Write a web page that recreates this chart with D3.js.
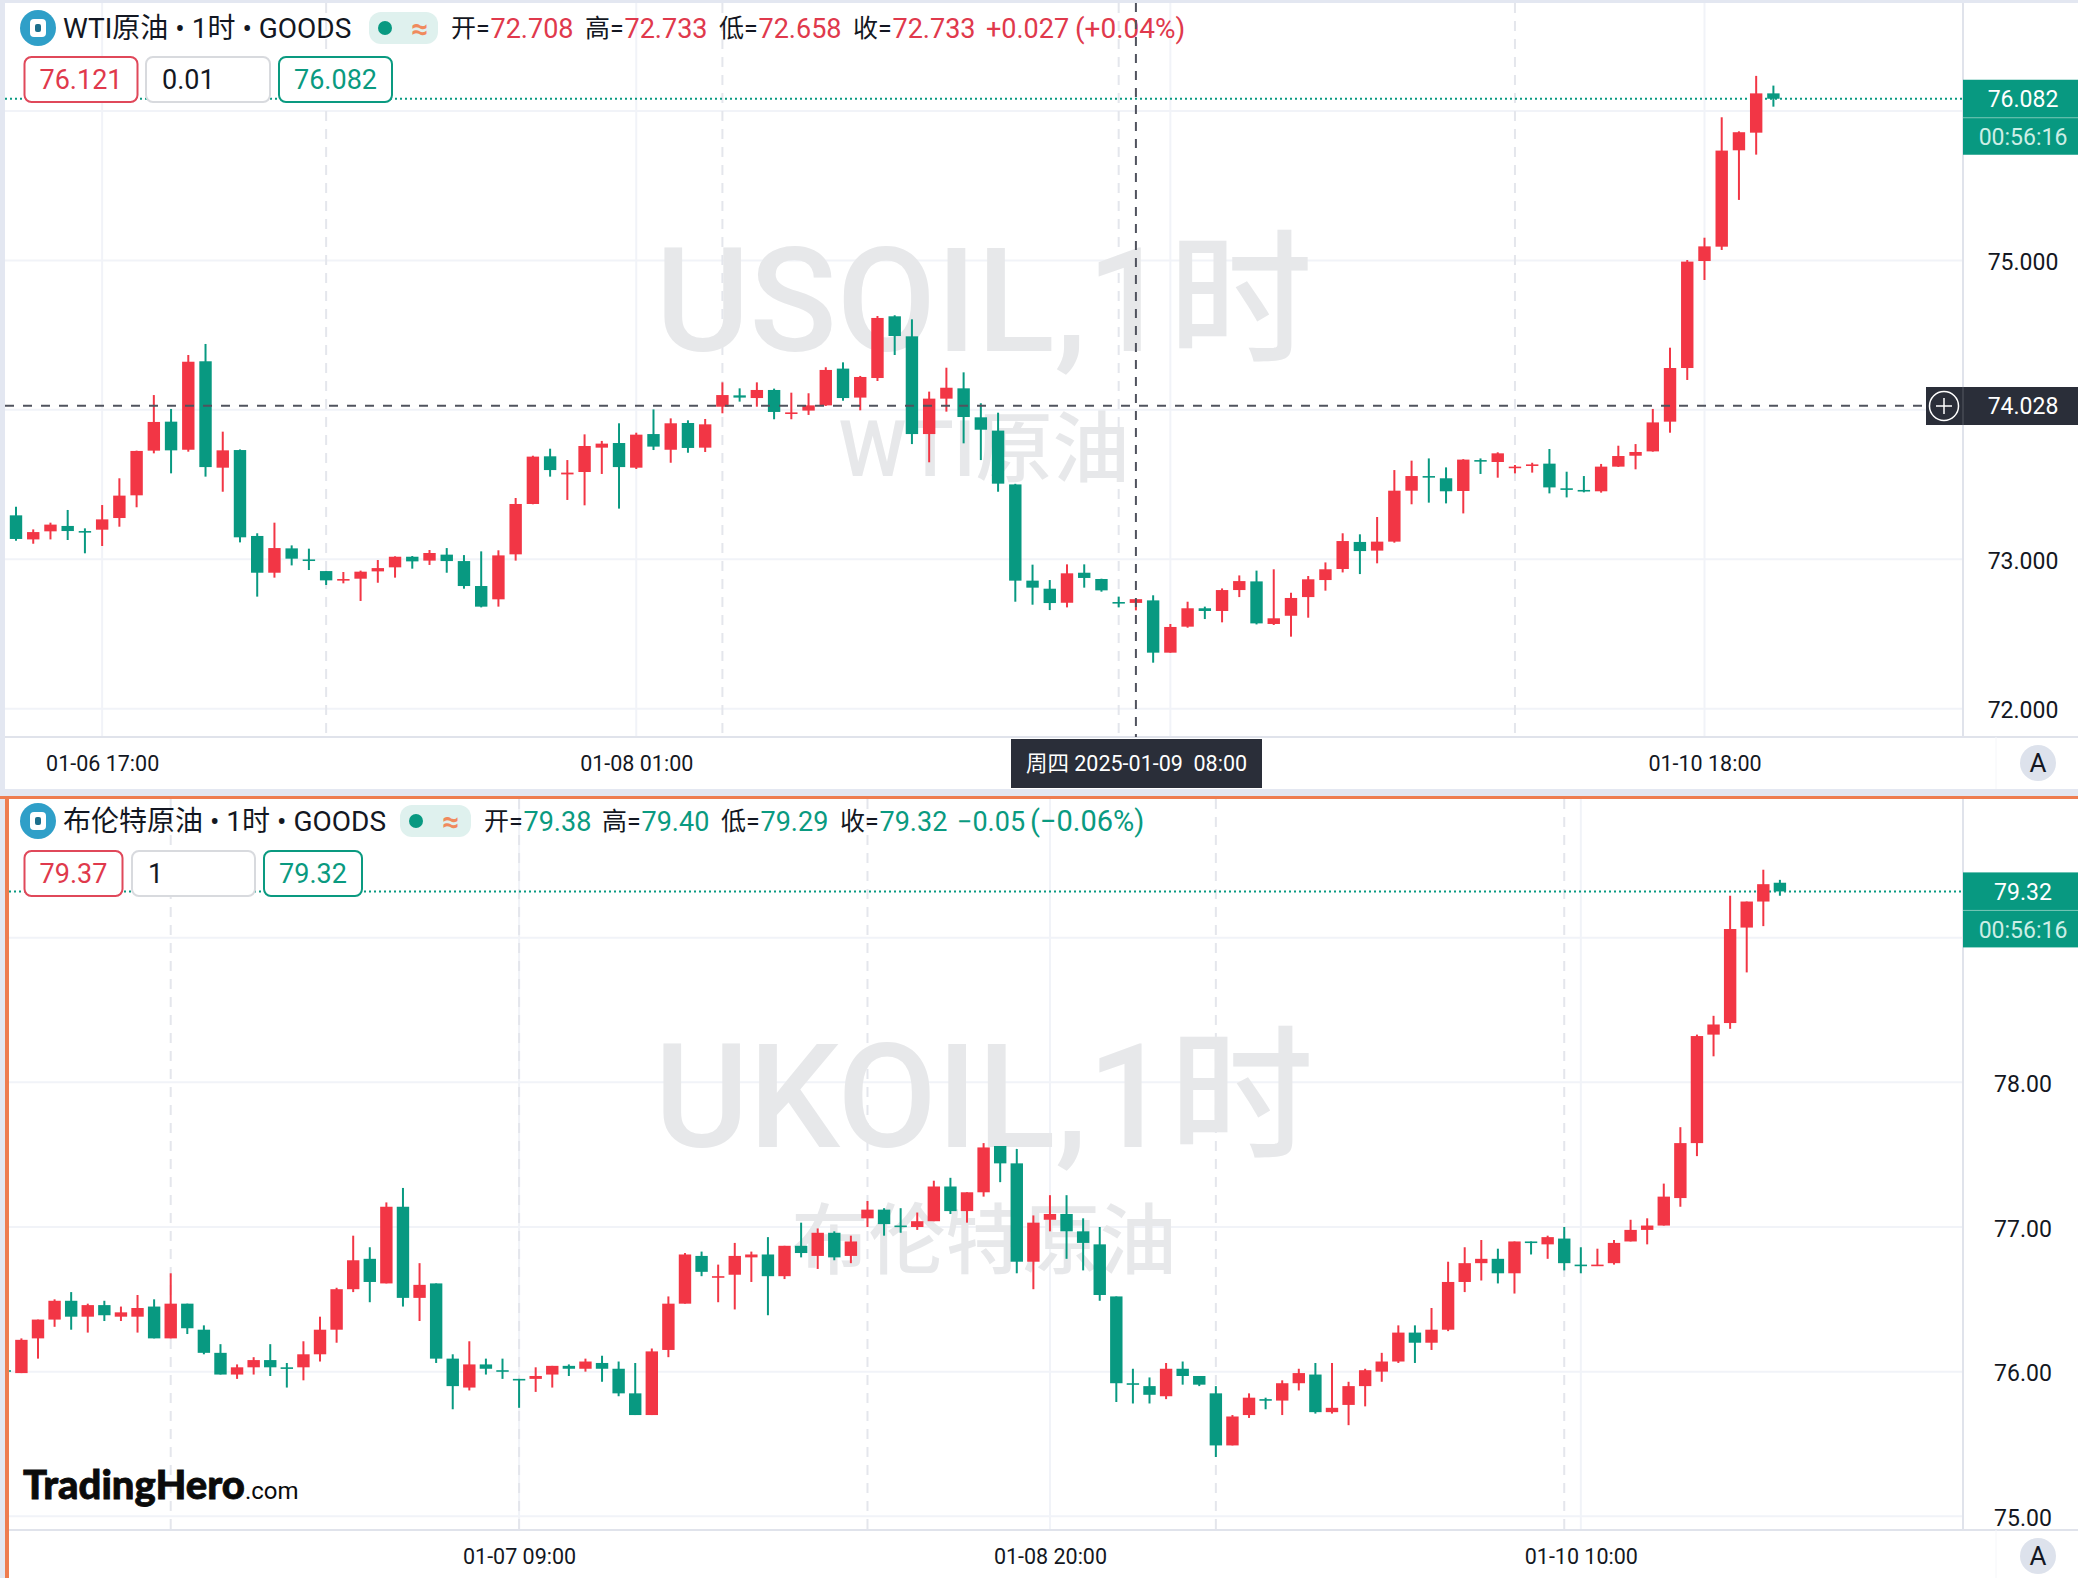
<!DOCTYPE html>
<html>
<head>
<meta charset="utf-8">
<script src="https://cdnjs.cloudflare.com/ajax/libs/d3/7.8.5/d3.min.js"></script>
<style>
  html, body { margin: 0; padding: 0; background: #e3e7f1; }
  svg { display: block; font-family: Roboto, "Noto Sans CJK SC", sans-serif; }
</style>
</head>
<body>
<svg id="chart" width="2078" height="1578"></svg>
<script>
// Candle rows are [open, high, low, close], first row is the one cut by the left edge
const usoilCandles = [
  [73.452,73.452,73.296,73.296],[73.294,73.352,73.124,73.136],[73.133,73.200,73.104,73.182],[73.187,73.245,73.133,73.232],
  [73.223,73.330,73.129,73.189],[73.189,73.207,73.040,73.180],[73.198,73.363,73.089,73.267],[73.276,73.542,73.218,73.426],
  [73.428,73.727,73.348,73.725],[73.727,74.099,73.709,73.919],[73.921,74.006,73.575,73.729],[73.733,74.367,73.720,74.322],
  [74.325,74.441,73.553,73.617],[73.613,73.854,73.452,73.729],[73.731,73.735,73.113,73.147],[73.156,73.174,72.750,72.910],
  [72.910,73.245,72.877,73.075],[73.073,73.093,72.959,73.004],[72.999,73.071,72.928,72.993],[72.921,72.921,72.828,72.859],
  [72.857,72.915,72.839,72.868],[72.870,72.924,72.721,72.917],[72.919,72.995,72.843,72.941],[72.946,73.020,72.877,73.017],
  [73.017,73.022,72.937,72.986],[72.991,73.062,72.962,73.042],[73.031,73.075,72.910,72.988],[72.988,73.028,72.803,72.821],
  [72.821,73.053,72.678,72.683],[72.732,73.060,72.683,73.026],[73.033,73.410,72.991,73.370],[73.370,73.693,73.368,73.687],
  [73.689,73.740,73.553,73.597],[73.568,73.664,73.397,73.580],[73.584,73.836,73.361,73.758],[73.747,73.792,73.571,73.774],
  [73.778,73.910,73.339,73.617],[73.613,73.847,73.604,73.834],[73.838,74.003,73.731,73.754],[73.733,73.943,73.646,73.910],
  [73.912,73.930,73.713,73.745],[73.747,73.939,73.718,73.903],[74.021,74.184,73.977,74.099],[74.097,74.144,74.055,74.082],
  [74.079,74.184,74.021,74.133],[74.133,74.142,73.937,73.986],[73.974,74.115,73.937,73.983],[73.995,74.111,73.966,74.030],
  [74.030,74.285,74.026,74.267],[74.276,74.318,74.061,74.079],[74.082,74.227,73.997,74.220],[74.213,74.628,74.193,74.615],
  [74.626,74.633,74.367,74.494],[74.492,74.606,73.771,73.838],[73.838,74.122,73.649,74.075],[74.075,74.282,73.988,74.148],
  [74.144,74.251,73.776,73.952],[73.950,74.044,73.664,73.867],[73.861,73.981,73.452,73.506],[73.501,73.505,72.716,72.857],
  [72.857,72.964,72.696,72.810],[72.803,72.861,72.660,72.707],[72.709,72.966,72.678,72.906],[72.910,72.966,72.810,72.875],
  [72.868,72.870,72.783,72.792],[72.714,72.750,72.678,72.705],[72.708,72.733,72.658,72.733],[72.725,72.759,72.308,72.375],
  [72.375,72.567,72.375,72.547],[72.549,72.716,72.542,72.672],[72.672,72.683,72.600,72.654],[72.654,72.805,72.578,72.794],
  [72.794,72.892,72.747,72.854],[72.852,72.924,72.564,72.571],[72.567,72.933,72.560,72.605],[72.622,72.776,72.482,72.741],
  [72.747,72.888,72.609,72.866],[72.861,72.979,72.790,72.933],[72.935,73.174,72.912,73.122],[73.116,73.167,72.901,73.055],
  [73.058,73.283,72.973,73.118],[73.118,73.597,73.111,73.459],[73.459,73.660,73.368,73.557],[73.557,73.675,73.379,73.548],
  [73.542,73.615,73.374,73.455],[73.457,73.670,73.307,73.667],[73.664,73.675,73.571,73.655],[73.651,73.716,73.546,73.709],
  [73.611,73.631,73.575,73.620],[73.626,73.646,73.580,73.635],[73.640,73.738,73.441,73.481],[73.475,73.586,73.414,73.466],
  [73.464,73.557,73.448,73.455],[73.455,73.638,73.446,73.620],[73.620,73.760,73.618,73.691],[73.693,73.771,73.602,73.718],
  [73.722,74.006,73.720,73.916],[73.921,74.416,73.847,74.280],[74.280,75.003,74.200,74.992],[74.996,75.152,74.869,75.094],
  [75.092,75.958,75.070,75.735],[75.737,75.864,75.405,75.858],[75.855,76.235,75.708,76.118],[76.118,76.170,76.029,76.082]
];

const ukoilCandles = [
  [76.01,76.01,75.99,76.00],[75.99,76.23,75.99,76.22],[76.23,76.36,76.09,76.36],[76.36,76.50,76.31,76.49],
  [76.49,76.55,76.29,76.38],[76.38,76.47,76.27,76.46],[76.46,76.49,76.35,76.39],[76.38,76.45,76.35,76.41],
  [76.38,76.53,76.27,76.44],[76.45,76.50,76.23,76.23],[76.23,76.68,76.23,76.47],[76.47,76.47,76.26,76.30],
  [76.29,76.32,76.12,76.13],[76.13,76.19,75.98,75.98],[75.98,76.05,75.95,76.03],[76.03,76.10,75.98,76.08],
  [76.08,76.19,75.97,76.03],[76.03,76.06,75.89,76.02],[76.03,76.21,75.94,76.12],[76.12,76.38,76.07,76.29],
  [76.29,76.58,76.20,76.57],[76.57,76.94,76.55,76.77],[76.78,76.86,76.48,76.62],[76.61,77.17,76.61,77.14],
  [77.14,77.27,76.45,76.51],[76.51,76.75,76.35,76.60],[76.61,76.61,76.06,76.09],[76.09,76.12,75.74,75.90],
  [75.89,76.21,75.87,76.05],[76.05,76.09,75.98,76.02],[76.01,76.09,75.95,76.00],[75.95,75.95,75.75,75.94],
  [75.95,76.03,75.86,75.97],[75.98,76.04,75.89,76.04],[76.04,76.05,75.97,76.02],[76.02,76.09,76.00,76.07],
  [76.06,76.11,75.93,76.02],[76.02,76.07,75.83,75.85],[75.85,76.06,75.70,75.70],[75.70,76.16,75.70,76.14],
  [76.15,76.52,76.10,76.47],[76.47,76.82,76.47,76.81],[76.80,76.83,76.66,76.69],[76.65,76.74,76.48,76.66],
  [76.67,76.89,76.43,76.80],[76.79,76.83,76.62,76.81],[76.81,76.93,76.39,76.66],[76.66,76.87,76.64,76.87],
  [76.87,77.03,76.79,76.82],[76.80,76.99,76.71,76.96],[76.96,76.97,76.77,76.79],[76.80,76.94,76.75,76.90],
  [77.06,77.18,77.00,77.12],[77.12,77.13,76.94,77.02],[77.01,77.13,76.96,77.00],[77.00,77.10,76.98,77.04],
  [77.04,77.32,77.04,77.28],[77.28,77.34,77.09,77.11],[77.11,77.24,77.03,77.24],[77.24,77.58,77.21,77.55],
  [77.56,77.56,77.31,77.44],[77.44,77.54,76.68,76.76],[76.76,77.08,76.57,77.03],[77.05,77.22,76.97,77.09],
  [77.09,77.22,76.78,76.97],[76.97,77.06,76.70,76.89],[76.88,77.00,76.49,76.53],[76.52,76.52,75.79,75.92],
  [75.92,76.02,75.78,75.91],[75.90,75.96,75.78,75.84],[75.83,76.06,75.81,76.02],[76.02,76.07,75.91,75.97],
  [75.97,75.97,75.90,75.91],[75.85,75.90,75.41,75.49],[75.49,75.70,75.49,75.69],[75.70,75.85,75.68,75.82],
  [75.81,75.82,75.74,75.80],[75.80,75.94,75.70,75.92],[75.92,76.02,75.87,75.99],[75.98,76.06,75.71,75.72],
  [75.72,76.06,75.71,75.75],[75.77,75.93,75.63,75.90],[75.90,76.02,75.76,76.01],[76.00,76.13,75.93,76.07],
  [76.07,76.32,76.06,76.27],[76.27,76.32,76.06,76.20],[76.20,76.44,76.15,76.29],[76.29,76.76,76.28,76.62],
  [76.62,76.86,76.55,76.75],[76.75,76.91,76.63,76.78],[76.78,76.85,76.61,76.68],[76.68,76.90,76.54,76.90],
  [76.90,76.90,76.81,76.89],[76.88,76.94,76.78,76.93],[76.92,77.00,76.70,76.75],[76.74,76.86,76.68,76.73],
  [76.73,76.85,76.73,76.74],[76.75,76.91,76.74,76.89],[76.90,77.05,76.90,76.98],[76.98,77.06,76.88,77.01],
  [77.01,77.30,77.01,77.21],[77.20,77.69,77.14,77.58],[77.58,78.33,77.49,78.32],[78.33,78.46,78.18,78.40],
  [78.41,79.29,78.37,79.06],[79.07,79.25,78.76,79.25],[79.25,79.47,79.08,79.37],[79.38,79.40,79.29,79.32]
];

// Price grid and the labels that are not hidden behind a badge
const usoilGridPrices = [76, 75, 74, 73, 72];
const usoilPriceTicks = [75, 73, 72];
const ukoilGridPrices = [79, 78, 77, 76, 75];
const ukoilPriceTicks = [78, 77, 76, 75];

// Time axis: bar number of the solid grid lines, and their labels
const usoilTimeBars = [6, 37, 68, 99];
const usoilTimeLabels = ["01-06 17:00", "01-08 01:00", "", "01-10 18:00"];
const usoilSessionBars = [19, 42, 65, 88];
const ukoilTimeBars = [31, 63, 95];
const ukoilTimeLabels = ["01-07 09:00", "01-08 20:00", "01-10 10:00"];
const ukoilSessionBars = [10, 31, 52, 73, 94];

const red = "#f23645";
const green = "#089981";
const ink = "#131722";
const axisLine = "#e0e3eb";
const gridLine = "#f1f3f8";
const badgeDark = "#2a2e39";

const svg = d3.select("#chart");

function txt(g, x, y, s, size, fill, anchor) {
  return g.append("text")
    .attr("x", x).attr("y", y)
    .attr("dy", "0.36em")
    .attr("font-size", size)
    .attr("fill", fill)
    .attr("text-anchor", anchor || "start")
    .text(s);
}

function drawPanel(p) {
  const g = svg.append("g");
  const x = d3.scaleLinear().domain(p.barDomain).range(p.barRange);
  const y = d3.scaleLinear().domain(p.priceDomain).range(p.priceRange);

  g.append("rect").attr("x", p.left).attr("y", p.top)
    .attr("width", 2078 - p.left).attr("height", p.bottom - p.top).attr("fill", "#fff");

  const clipId = "clip" + p.id;
  g.append("clipPath").attr("id", clipId).append("rect")
    .attr("x", p.left).attr("y", p.top).attr("width", 1963 - p.left).attr("height", p.axisY - p.top);

  // grid
  g.selectAll(".hgrid").data(p.gridPrices).enter().append("line")
    .attr("x1", p.left).attr("x2", 1963)
    .attr("y1", d => y(d)).attr("y2", d => y(d))
    .attr("stroke", gridLine).attr("stroke-width", 2);
  g.selectAll(".vgrid").data(p.timeBars).enter().append("line")
    .attr("x1", d => x(d)).attr("x2", d => x(d))
    .attr("y1", p.top).attr("y2", p.axisY)
    .attr("stroke", gridLine).attr("stroke-width", 2);
  g.selectAll(".vsession").data(p.sessionBars).enter().append("line")
    .attr("x1", d => x(d)).attr("x2", d => x(d))
    .attr("y1", p.top).attr("y2", p.axisY)
    .attr("stroke", "#e4e6ec").attr("stroke-width", 2)
    .attr("stroke-dasharray", "10,8");

  // watermark
  g.append("text").attr("x", 984).attr("y", p.markY1)
    .attr("text-anchor", "middle").attr("font-size", p.markSize1).attr("font-weight", 500)
    .attr("fill", "#e7e8ea").text(p.mark1);
  g.append("text").attr("x", 984).attr("y", p.markY2)
    .attr("text-anchor", "middle").attr("font-size", p.markSize2).attr("font-weight", 500)
    .attr("fill", "#e7e8ea").text(p.mark2);

  // last price line
  g.append("line")
    .attr("x1", p.left).attr("x2", 1963)
    .attr("y1", y(p.last)).attr("y2", y(p.last))
    .attr("stroke", green).attr("stroke-width", 2)
    .attr("stroke-dasharray", "2,3");

  // candles
  const candles = g.append("g").attr("clip-path", `url(#${clipId})`)
    .selectAll("g").data(p.candles).enter().append("g")
    .attr("fill", d => d[3] >= d[0] ? red : green)
    .attr("stroke", d => d[3] >= d[0] ? red : green);
  candles.append("line")
    .attr("x1", (d, i) => x(i)).attr("x2", (d, i) => x(i))
    .attr("y1", d => y(d[1])).attr("y2", d => y(d[2]))
    .attr("stroke-width", 2);
  candles.append("rect")
    .attr("stroke", "none")
    .attr("x", (d, i) => x(i) - 6.2)
    .attr("width", 12.4)
    .attr("y", d => y(Math.max(d[0], d[3])))
    .attr("height", d => Math.max(Math.abs(y(d[0]) - y(d[3])), 1.6));

  // axis frames
  g.append("line").attr("x1", 1963).attr("x2", 1963).attr("y1", p.top).attr("y2", p.axisY)
    .attr("stroke", axisLine).attr("stroke-width", 2);
  g.append("line").attr("x1", p.left).attr("x2", 2078).attr("y1", p.axisY).attr("y2", p.axisY)
    .attr("stroke", axisLine).attr("stroke-width", 2);
  g.append("line").attr("x1", 1996).attr("x2", 1996).attr("y1", p.axisY).attr("y2", p.bottom)
    .attr("stroke", "#f5f6f9").attr("stroke-width", 1);

  // price axis
  const yAxis = g.append("g")
    .attr("transform", "translate(2023,0)")
    .call(d3.axisRight(y).tickValues(p.priceTicks).tickSize(0).tickFormat(d3.format(p.priceFormat)));
  yAxis.select(".domain").remove();
  yAxis.selectAll("text")
    .attr("x", 0).attr("dy", "0.4em").attr("text-anchor", "middle")
    .attr("font-size", 23).attr("font-family", "Roboto").attr("fill", ink);

  // time axis
  const xAxis = g.append("g")
    .attr("transform", `translate(0,${p.axisY})`)
    .call(d3.axisBottom(x).tickValues(p.timeBars).tickSize(0)
      .tickFormat((d, i) => p.timeLabels[i]));
  xAxis.select(".domain").remove();
  xAxis.selectAll("text")
    .attr("y", 26).attr("dy", "0.36em")
    .attr("font-size", 21.5).attr("font-family", "Roboto").attr("fill", ink);

  // "A" auto scale button
  g.append("circle").attr("cx", 2038).attr("cy", p.axisY + 26).attr("r", 18).attr("fill", "#dde2ec");
  txt(g, 2038, p.axisY + 26, "A", 26, ink, "middle");

  // last price badge
  const by = y(p.last) - 19;
  g.append("rect").attr("x", 1963).attr("y", by).attr("width", 115).attr("height", 75).attr("fill", green);
  g.append("line").attr("x1", 1963).attr("x2", 2078).attr("y1", by + 38).attr("y2", by + 38)
    .attr("stroke", "#7cc9b8").attr("stroke-width", 1);
  txt(g, 2023, by + 19, p.lastLabel, 23, "#fff", "middle");
  txt(g, 2023, by + 57, "00:56:16", 23, "#cdeee6", "middle");

  // legend line
  const ly = p.legendY;
  g.append("circle").attr("cx", 38).attr("cy", ly).attr("r", 18).attr("fill", "#2f9fc8");
  g.append("rect").attr("x", 30).attr("y", ly - 9).attr("width", 16).attr("height", 18).attr("rx", 4).attr("fill", "#fff");
  g.append("rect").attr("x", 35).attr("y", ly - 4).attr("width", 6).attr("height", 8).attr("rx", 2).attr("fill", "#1d6f8c");
  txt(g, 63, ly, p.title, 28, ink);

  g.append("rect").attr("x", p.pillX).attr("y", ly - 16).attr("width", p.pillW).attr("height", 32).attr("rx", 12).attr("fill", "#dff1ee");
  g.append("circle").attr("cx", p.pillX + 16).attr("cy", ly).attr("r", 7).attr("fill", green);
  txt(g, p.pillX + 51, ly, "≈", 30, "#f08a5d", "middle").attr("font-weight", 700);

  const col = p.legendUp ? "#e0394c" : "#0a9a80";
  ["开=", "高=", "低=", "收="].forEach((k, i) => {
    txt(g, p.legendX[i], ly, k, 25, ink);
    txt(g, p.legendX[i] + 39.5, ly, p.legendVals[i], 27, col);
  });
  txt(g, p.legendX[4], ly, p.legendVals[4], 27, col);
  txt(g, p.legendX[5], ly, p.legendVals[5], p.changeSize, col);

  // order boxes
  const bt = p.boxY;
  p.boxes.forEach(b => {
    g.append("rect").attr("x", b.x).attr("y", bt).attr("width", b.w).attr("height", 45).attr("rx", 7)
      .attr("fill", "#fff").attr("stroke", b.stroke).attr("stroke-width", 2);
    if (b.middle) txt(g, b.x + b.w / 2, bt + 22.5, b.s, 27, b.fill, "middle");
    else txt(g, b.x + 16, bt + 22.5, b.s, 27, b.fill);
  });

  return { x, y, g };
}

// Top background strip and the gap between the panels come from the body colour
const top1 = drawPanel({
  id: "a", left: 5, top: 3, bottom: 789, axisY: 737,
  candles: usoilCandles,
  barDomain: [1, 103], barRange: [16, 1773.4],
  priceDomain: [72, 76], priceRange: [708.7, 111],
  gridPrices: usoilGridPrices, priceTicks: usoilPriceTicks, priceFormat: ".3f",
  timeBars: usoilTimeBars, timeLabels: usoilTimeLabels, sessionBars: usoilSessionBars,
  mark1: "USOIL,1时", markSize1: 144, markY1: 351,
  mark2: "WTI原油", markSize2: 77, markY2: 476,
  last: 76.082, lastLabel: "76.082",
  legendY: 28, title: "WTI原油 • 1时 • GOODS",
  pillX: 369, pillW: 69,
  legendX: [451, 585, 719, 853, 986, 1075], legendUp: true, changeSize: 28,
  legendVals: ["72.708", "72.733", "72.658", "72.733", "+0.027", "(+0.04%)"],
  boxY: 57,
  boxes: [
    { x: 24.5, w: 113, s: "76.121", stroke: "#e0485a", fill: "#e0394c", middle: true },
    { x: 146, w: 124, s: "0.01", stroke: "#d8dade", fill: ink },
    { x: 279, w: 113, s: "76.082", stroke: "#0a9a80", fill: "#0a9a80", middle: true }
  ]
});

// crosshair sits above the candles of the top panel
top1.g.append("line").attr("x1", top1.x(66)).attr("x2", top1.x(66)).attr("y1", 3).attr("y2", 737)
  .attr("stroke", "#50535e").attr("stroke-width", 2).attr("stroke-dasharray", "9,8");
top1.g.append("line").attr("x1", 5).attr("x2", 1926).attr("y1", top1.y(74.028)).attr("y2", top1.y(74.028))
  .attr("stroke", "#50535e").attr("stroke-width", 2).attr("stroke-dasharray", "9,9");
top1.g.append("rect").attr("x", 1926).attr("y", 387).attr("width", 152).attr("height", 38).attr("fill", badgeDark);
top1.g.append("circle").attr("cx", 1944).attr("cy", 406).attr("r", 14.5)
  .attr("fill", "none").attr("stroke", "#fff").attr("stroke-width", 1.5);
top1.g.append("path").attr("d", "M1936 406H1952M1944 398V414").attr("stroke", "#fff").attr("stroke-width", 1.5);
top1.g.append("line").attr("x1", 1963).attr("x2", 1963).attr("y1", 387).attr("y2", 425).attr("stroke", "#555862");
txt(top1.g, 2023, 406, "74.028", 23, "#fff", "middle");
top1.g.append("rect").attr("x", 1011).attr("y", 739).attr("width", 251).attr("height", 49).attr("fill", badgeDark);
txt(top1.g, 1136.5, 763, "周四 2025-01-09  08:00", 21.5, "#fff", "middle").attr("xml:space", "preserve");

const top2 = drawPanel({
  id: "b", left: 9, top: 799, bottom: 1578, axisY: 1530,
  candles: ukoilCandles,
  barDomain: [1, 107], barRange: [21.4, 1779.9],
  priceDomain: [75, 79], priceRange: [1516.3, 937.7],
  gridPrices: ukoilGridPrices, priceTicks: ukoilPriceTicks, priceFormat: ".2f",
  timeBars: ukoilTimeBars, timeLabels: ukoilTimeLabels, sessionBars: ukoilSessionBars,
  mark1: "UKOIL,1时", markSize1: 144, markY1: 1147,
  mark2: "布伦特原油", markSize2: 77, markY2: 1268,
  last: 79.32, lastLabel: "79.32",
  legendY: 821, title: "布伦特原油 • 1时 • GOODS",
  pillX: 400, pillW: 71,
  legendX: [484, 602, 721, 840, 957, 1030], legendUp: false, changeSize: 29,
  legendVals: ["79.38", "79.40", "79.29", "79.32", "−0.05", "(−0.06%)"],
  boxY: 851,
  boxes: [
    { x: 24.5, w: 98, s: "79.37", stroke: "#e0485a", fill: "#e0394c", middle: true },
    { x: 132, w: 123, s: "1", stroke: "#d8dade", fill: ink },
    { x: 264, w: 98, s: "79.32", stroke: "#0a9a80", fill: "#0a9a80", middle: true }
  ]
});

// orange frame of the active panel
svg.append("rect").attr("x", 0).attr("y", 796).attr("width", 2078).attr("height", 3).attr("fill", "#ee7d50");
svg.append("rect").attr("x", 5).attr("y", 796).attr("width", 4).attr("height", 782).attr("fill", "#ee7d50");

// logo
const logo = svg.append("text").attr("x", 23).attr("y", 1499).attr("fill", "#0b0b0b");
logo.append("tspan").attr("font-family", "Lato").attr("font-weight", 900).attr("font-size", 40)
  .attr("stroke", "#0b0b0b").attr("stroke-width", 0.8).text("TradingHero");
logo.append("tspan").attr("font-family", "Roboto").attr("font-size", 24).text(".com");
</script>
</body>
</html>
